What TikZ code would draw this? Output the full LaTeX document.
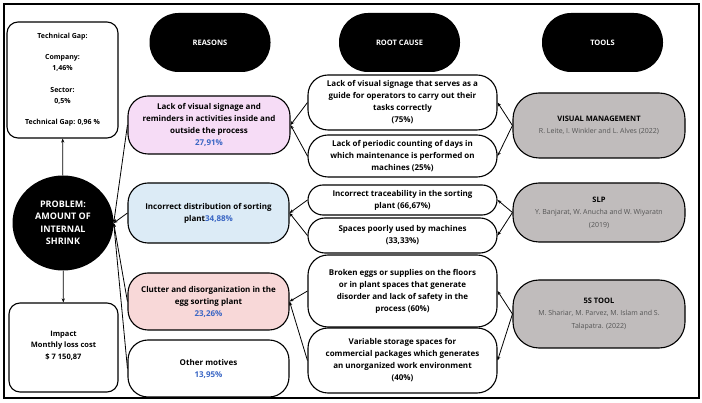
\documentclass[tikz,border=0pt]{standalone}
\usepackage{fontspec}
\setmainfont{Open Sans}
\usepackage{tikz}
\usetikzlibrary{shapes.geometric, arrows.meta, positioning, calc}
\usepackage{xcolor}
\definecolor{signpink}{HTML}{F6DCF6}
\definecolor{sortblue}{HTML}{DCEBF6}
\definecolor{clutterred}{HTML}{F8D8D8}
\definecolor{toolgray}{HTML}{C0BCBC}
\definecolor{pctblue}{HTML}{3A66C4}
\definecolor{authorgray}{HTML}{555555}

\begin{document}
\begin{tikzpicture}[x=1pt, y=-1pt,
    box/.style={draw, line width=1.1pt, rounded corners=20pt, align=center,
        inner sep=1pt, font=\fontsize{8}{12}\selectfont\bfseries},
    title/.style={fill=black, rounded corners=29pt, minimum width=121pt,
        minimum height=59pt, text=white, font=\fontsize{7.5}{9}\selectfont\bfseries},
    tool/.style={box, fill=toolgray, minimum width=172pt, rounded corners=26pt,
        font=\fontsize{7}{12.5}\selectfont},
    link/.style={line width=0.8pt, -{Stealth[length=4pt, width=3.2pt]}}]
    \useasboundingbox (0, 0) rectangle (702, 403);
    % Frame
    \draw[line width=1.3pt] (4, 4) rectangle (699, 398);
    % Titles
    \node[title] (reasons) at (210, 42.5) {REASONS};
    \node[title] (rootcause) at (399.5, 42.5) {ROOT CAUSE};
    \node[title] (tools) at (602.5, 42.5) {TOOLS};
    % Problem
    \node[ellipse, fill=black, minimum width=101pt, minimum height=95pt, text=white,
        align=center, font=\fontsize{9}{12.5}\selectfont\bfseries]
        (problem) at (63, 223) {PROBLEM:\\AMOUNT OF\\INTERNAL\\SHRINK};
    \node[box, rounded corners=11pt, minimum width=111pt, minimum height=116pt,
        font=\fontsize{7}{11}\selectfont\bfseries] (gap) at (62.5, 80)
        {Technical Gap:\\[10pt] Company:\\1,46\%\\[11pt] Sector:\\0,5\%\\[10pt] Technical Gap: 0,96 \%};
    \node[box, rounded corners=11pt, minimum width=109pt, minimum height=89pt,
        font=\fontsize{7.5}{11.5}\selectfont\bfseries] (impact) at (63.5, 347.5)
        {Impact\\Monthly loss cost\\\$ 7 150,87\rule[-5pt]{0pt}{5pt}};
    % Reasons
    \node[box, fill=signpink, minimum width=162pt, minimum height=58pt] (rsign) at (209, 125)
        {Lack of visual signage and\\reminders in activities inside and\\outside the process\\\textcolor{pctblue}{27,91\%}};
    \node[box, fill=sortblue, minimum width=161pt, minimum height=60pt] (rdist) at (208.5, 213)
        {Incorrect distribution of sorting\\plant\textcolor{pctblue}{34,88\%}};
    \node[box, fill=clutterred, minimum width=161pt, minimum height=57pt] (rclut) at (208.5, 301.5)
        {Clutter and disorganization in the\\egg sorting plant\\\textcolor{pctblue}{23,26\%}};
    \node[box, minimum width=161pt, minimum height=57pt] (rother) at (208.5, 368.5)
        {Other motives\\\textcolor{pctblue}{13,95\%}};
    % Root causes
    \node[box, minimum width=189pt, minimum height=55pt] (rcsign) at (402.5, 102.5)
        {Lack of visual signage that serves as a\\guide for operators to carry out their\\tasks correctly\\(75\%)};
    \node[box, minimum width=189pt, minimum height=42pt] (rccount) at (402.5, 156)
        {Lack of periodic counting of days in\\which maintenance is performed on\\machines (25\%)};
    \node[box, rounded corners=15pt, minimum width=189pt, minimum height=30pt] (rctrace) at (402.5, 200)
        {Incorrect traceability in the sorting\\plant (66,67\%)};
    \node[box, rounded corners=17pt, minimum width=189pt, minimum height=35pt] (rcspace) at (402.5, 235.5)
        {Spaces poorly used by machines\\(33,33\%)};
    \node[box, minimum width=189pt, minimum height=72pt] (rcbroken) at (402.5, 291)
        {Broken eggs or supplies on the floors\\or in plant spaces that generate\\disorder and lack of safety in the\\process (60\%)};
    \node[box, minimum width=189pt, minimum height=65pt] (rcstore) at (402.5, 360.5)
        {Variable storage spaces for\\commercial packages which generates\\an unorganized work environment\\(40\%)};
    % Tools
    \node[tool, minimum height=65pt] (tvisual) at (599, 125.5)
        {\textbf{\fontsize{7.5}{12.5}\selectfont VISUAL MANAGEMENT}\\\textcolor{authorgray}{R. Leite, I. Winkler and L. Alves (2022)}};
    \node[tool, minimum height=59pt] (tslp) at (599, 212.5)
        {\textbf{\fontsize{7.5}{12.5}\selectfont SLP}\\\textcolor{authorgray}{Y. Banjarat, W. Anucha and W. Wiyaratn}\\\textcolor{authorgray}{(2019)}};
    \node[tool, minimum height=68pt] (tfives) at (599, 314)
        {\textbf{\fontsize{7.5}{12.5}\selectfont 5S TOOL}\\\textcolor{authorgray}{M. Shariar, M. Parvez, M. Islam and S.}\\\textcolor{authorgray}{Talapatra. (2022)}};
    % Links
    \draw[link] (problem) -- (gap);
    \draw[link] (problem) -- (impact);
    \foreach \r in {rsign, rdist, rclut, rother}
        \draw[link] (\r.west) -- (problem.east);
    \draw[link] (rcsign.west) -- (rsign.east);
    \draw[link] (rccount.west) -- (rsign.east);
    \draw[link] (rctrace.west) -- (rdist.east);
    \draw[link] (rcspace.west) -- (rdist.east);
    \draw[link] (rcbroken.west) -- (rclut.east);
    \draw[link] (rcstore.west) -- (rclut.east);
    \draw[link] (tvisual.west) -- (rcsign.east);
    \draw[link] (tvisual.west) -- (rccount.east);
    \draw[link] (tslp.west) -- (rctrace.east);
    \draw[link] (tslp.west) -- (rcspace.east);
    \draw[link] (tfives.west) -- (rcbroken.east);
    \draw[link] (tfives.west) -- (rcstore.east);
\end{tikzpicture}
\end{document}
